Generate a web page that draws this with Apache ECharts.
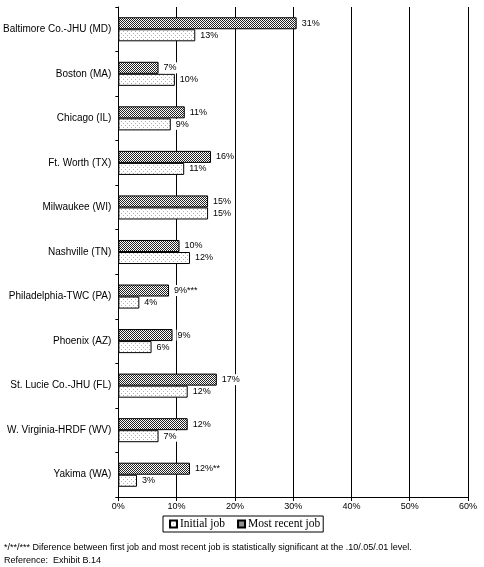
<!DOCTYPE html>
<html>
<head>
<meta charset="utf-8">
<script src="https://cdn.jsdelivr.net/npm/echarts@6/dist/echarts.min.js"></script>
<style>html,body{margin:0;padding:0;background:#fff}#c{width:484px;height:567px}</style>
</head>
<body>
<div id="c"></div>
<script>
var categories = ['Baltimore Co.-JHU (MD)','Boston (MA)','Chicago (IL)','Ft. Worth (TX)','Milwaukee (WI)','Nashville (TN)','Philadelphia-TWC (PA)','Phoenix (AZ)','St. Lucie Co.-JHU (FL)','W. Virginia-HRDF (WV)','Yakima (WA)'];
var initialJob = [13.2, 9.7, 9.0, 11.3, 15.4, 12.3, 3.6, 5.7, 11.9, 6.9, 3.2];
var recentJob = [30.6, 6.9, 11.4, 15.9, 15.4, 10.5, 8.7, 9.3, 16.9, 11.9, 12.3];
var initialLabels = ['13%','10%','9%','11%','15%','12%','4%','6%','12%','7%','3%'];
var recentLabels = ['31%','7%','11%','16%','15%','10%','9%***','9%','17%','12%','12%**'];
var xTicks = [0, 10, 20, 30, 40, 50, 60];
var footnote = '*/**/*** Diference between first job and most recent job is statistically significant at the .10/.05/.01 level.';
var reference = 'Reference:  Exhibit B.14';

function makePattern(type) {
  var c = document.createElement('canvas');
  var ctx = c.getContext('2d');
  if (type === 'dark') {
    c.width = 2; c.height = 2;
    ctx.fillStyle = '#fff'; ctx.fillRect(0,0,2,2);
    ctx.fillStyle = '#222'; ctx.fillRect(0,0,1,1); ctx.fillRect(1,1,1,1);
  } else {
    c.width = 4; c.height = 4;
    ctx.fillStyle = '#fff'; ctx.fillRect(0,0,4,4);
    ctx.fillStyle = '#b0b0b0'; ctx.fillRect(1,1,1,1); ctx.fillRect(3,3,1,1);
  }
  return c;
}
var darkPat = {image: makePattern('dark'), repeat: 'repeat'};
var lightPat = {image: makePattern('light'), repeat: 'repeat'};

var chart = echarts.init(document.getElementById('c'), null, {renderer: 'canvas'});
var lblFont = 'Liberation Sans';
chart.setOption({
  animation: false,
  grid: {left: 117, right: 16, top: 7, bottom: 70, containLabel: false},
  xAxis: {
    type: 'value', min: 0, max: 60, interval: 10,
    axisLine: {show: true, lineStyle: {color: '#000', width: 1}},
    axisTick: {show: true, length: 4, lineStyle: {color: '#000'}},
    splitLine: {show: true, lineStyle: {color: '#000', width: 1}},
    axisLabel: {color: '#000', fontFamily: lblFont, fontSize: 9, margin: 5,
      formatter: function(v){ return xTicks.indexOf(v) >= 0 ? v + '%' : ''; }}
  },
  yAxis: {
    type: 'category', data: categories, inverse: true,
    axisLine: {show: true, lineStyle: {color: '#000', width: 1}},
    axisTick: {show: true, length: 3, lineStyle: {color: '#000'}},
    axisLabel: {color: '#000', fontFamily: lblFont, fontSize: 10, margin: 7}
  },
  legend: {
    data: ['Initial job', 'Most recent job'],
    left: 163, top: 516,
    padding: [2, 3, 2, 6],
    itemGap: 12, itemWidth: 7, itemHeight: 7,
    borderColor: '#000', borderWidth: 1, borderRadius: 0,
    icon: 'rect',
    textStyle: {fontFamily: 'Liberation Serif', fontSize: 11.5, color: '#000', padding: [0,0,0,-2]}
  },
  series: [
    {
      name: 'Most recent job', type: 'bar', data: recentJob,
      barGap: '0%', barCategoryGap: '46%',
      itemStyle: {color: darkPat, borderColor: '#000', borderWidth: 1},
      label: {show: true, position: 'right', distance: 4, color: '#000', fontFamily: lblFont, fontSize: 9,
        backgroundColor: '#fff', padding: [1, 1, 1, 1],
        formatter: function(p){ return recentLabels[p.dataIndex]; }}
    },
    {
      name: 'Initial job', type: 'bar', data: initialJob,
      barGap: '0%', barCategoryGap: '46%',
      itemStyle: {color: lightPat, borderColor: '#000', borderWidth: 1},
      label: {show: true, position: 'right', distance: 4, color: '#000', fontFamily: lblFont, fontSize: 9,
        backgroundColor: '#fff', padding: [1, 1, 1, 1],
        formatter: function(p){ return initialLabels[p.dataIndex]; }}
    }
  ],
  graphic: [
    {type: 'text', left: 4, top: 543, style: {text: footnote, fontFamily: lblFont, fontSize: 9, fill: '#000'}},
    {type: 'text', left: 4, top: 556, style: {text: reference, fontFamily: lblFont, fontSize: 9, fill: '#000'}}
  ]
});
</script>
</body>
</html>
